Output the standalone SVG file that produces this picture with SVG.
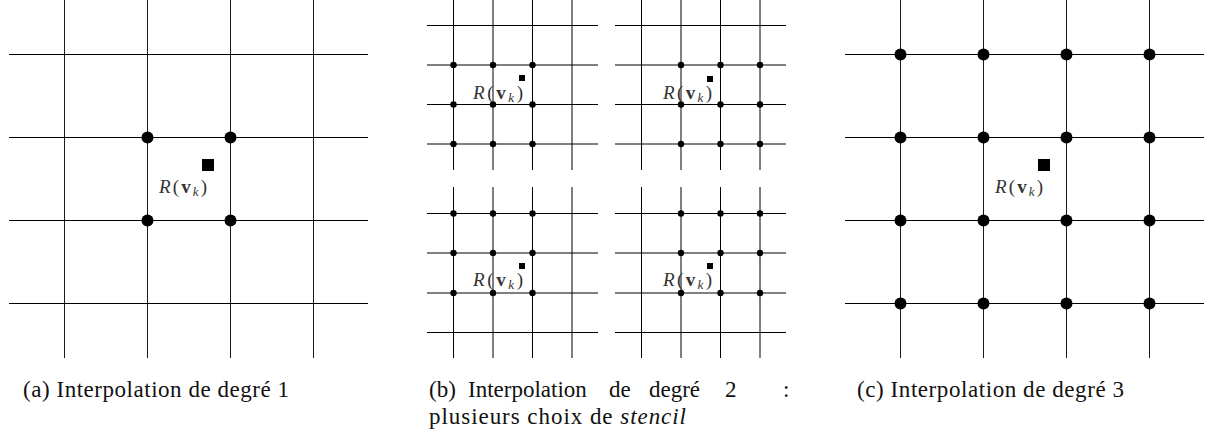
<svg xmlns="http://www.w3.org/2000/svg" width="1208" height="441" viewBox="0 0 1208 441">
<style>
.ln{stroke:#000;stroke-width:1;fill:none}
.lv{stroke:#1a1a1a;stroke-width:1;fill:none}
.dot{fill:#000}
.sq{fill:#000}
.lab{font-family:"Liberation Serif",serif;font-size:19px;fill:#333}
.cap{font-family:"Liberation Serif",serif;font-size:23px;fill:#111}
.it{font-style:italic}
.bf{font-weight:bold}
</style>
<rect width="1208" height="441" fill="#fff"/>

<g id="panel-a">
  <g id="a-grid">
    <path class="lv" d="M64.5 0V358M147.5 0V358M230.5 0V358M313.5 0V358"/>
    <path class="ln" d="M9 54.5H368M9 137.5H368M9 220.5H368M9 303.5H368"/>
  </g>
  <g id="a-nodes">
    <circle class="dot" cx="147.5" cy="137.5" r="6"/>
    <circle class="dot" cx="230.5" cy="137.5" r="6"/>
    <circle class="dot" cx="147.5" cy="220.5" r="6"/>
    <circle class="dot" cx="230.5" cy="220.5" r="6"/>
  </g>
  <g id="a-point">
    <rect class="sq" x="202" y="159" width="12" height="12"/>
    <text class="lab" x="159" y="193" textLength="48"><tspan class="it">R</tspan>(<tspan class="bf">v</tspan><tspan class="it" font-size="13" dy="3">k</tspan><tspan dy="-3">)</tspan></text>
  </g>
</g>

<g id="panel-b">
  <g id="b-tl">
    <path class="ln" d="M453.5 0V170M532.5 0V170M427 25.5H598M427 104.5H598"/>
    <path class="ln" d="M493 0V170M572 0V170M427 65H598M427 144H598"/>
    <g class="dot">
      <circle cx="453.5" cy="65" r="3.2"/><circle cx="493" cy="65" r="3.2"/><circle cx="532.5" cy="65" r="3.2"/>
      <circle cx="453.5" cy="104.5" r="3.2"/><circle cx="493" cy="104.5" r="3.2"/><circle cx="532.5" cy="104.5" r="3.2"/>
      <circle cx="453.5" cy="144" r="3.2"/><circle cx="493" cy="144" r="3.2"/><circle cx="532.5" cy="144" r="3.2"/>
    </g>
    <rect class="sq" x="519" y="75" width="6" height="6"/>
    <text class="lab" x="473" y="99" textLength="50"><tspan class="it">R</tspan>(<tspan class="bf">v</tspan><tspan class="it" font-size="13" dy="3">k</tspan><tspan dy="-3">)</tspan></text>
  </g>
  <g id="b-tr">
    <path class="ln" d="M641.5 0V170M720.5 0V170M615 25.5H786M615 104.5H786"/>
    <path class="ln" d="M681 0V170M760 0V170M615 65H786M615 144H786"/>
    <g class="dot">
      <circle cx="681" cy="65" r="3.2"/><circle cx="720.5" cy="65" r="3.2"/><circle cx="760" cy="65" r="3.2"/>
      <circle cx="681" cy="104.5" r="3.2"/><circle cx="720.5" cy="104.5" r="3.2"/><circle cx="760" cy="104.5" r="3.2"/>
      <circle cx="681" cy="144" r="3.2"/><circle cx="720.5" cy="144" r="3.2"/><circle cx="760" cy="144" r="3.2"/>
    </g>
    <rect class="sq" x="707" y="76" width="6" height="6"/>
    <text class="lab" x="663" y="99" textLength="49"><tspan class="it">R</tspan>(<tspan class="bf">v</tspan><tspan class="it" font-size="13" dy="3">k</tspan><tspan dy="-3">)</tspan></text>
  </g>
  <g id="b-bl">
    <path class="ln" d="M453.5 187V358M532.5 187V358M427 213.5H598M427 332.5H598"/>
    <path class="ln" d="M493 187V358M572 187V358M427 253H598M427 293H598"/>
    <g class="dot">
      <circle cx="453.5" cy="213.5" r="3.2"/><circle cx="493" cy="213.5" r="3.2"/><circle cx="532.5" cy="213.5" r="3.2"/>
      <circle cx="453.5" cy="253" r="3.2"/><circle cx="493" cy="253" r="3.2"/><circle cx="532.5" cy="253" r="3.2"/>
      <circle cx="453.5" cy="293" r="3.2"/><circle cx="493" cy="293" r="3.2"/><circle cx="532.5" cy="293" r="3.2"/>
    </g>
    <rect class="sq" x="519" y="263" width="6" height="6"/>
    <text class="lab" x="473" y="286" textLength="50"><tspan class="it">R</tspan>(<tspan class="bf">v</tspan><tspan class="it" font-size="13" dy="3">k</tspan><tspan dy="-3">)</tspan></text>
  </g>
  <g id="b-br">
    <path class="ln" d="M641.5 187V358M720.5 187V358M615 213.5H786M615 332.5H786"/>
    <path class="ln" d="M681 187V358M760 187V358M615 253H786M615 293H786"/>
    <g class="dot">
      <circle cx="681" cy="213.5" r="3.2"/><circle cx="720.5" cy="213.5" r="3.2"/><circle cx="760" cy="213.5" r="3.2"/>
      <circle cx="681" cy="253" r="3.2"/><circle cx="720.5" cy="253" r="3.2"/><circle cx="760" cy="253" r="3.2"/>
      <circle cx="681" cy="293" r="3.2"/><circle cx="720.5" cy="293" r="3.2"/><circle cx="760" cy="293" r="3.2"/>
    </g>
    <rect class="sq" x="707" y="263" width="6" height="6"/>
    <text class="lab" x="663" y="286" textLength="49"><tspan class="it">R</tspan>(<tspan class="bf">v</tspan><tspan class="it" font-size="13" dy="3">k</tspan><tspan dy="-3">)</tspan></text>
  </g>
</g>

<g id="panel-c">
  <g id="c-grid">
    <path class="lv" d="M900.5 0V358M983.5 0V358M1066.5 0V358M1149.5 0V358"/>
    <path class="ln" d="M845 54.5H1204M845 137.5H1204M845 220.5H1204M845 303.5H1204"/>
  </g>
  <g id="c-nodes" class="dot">
    <circle cx="900.5" cy="54.5" r="6"/><circle cx="983.5" cy="54.5" r="6"/><circle cx="1066.5" cy="54.5" r="6"/><circle cx="1149.5" cy="54.5" r="6"/>
    <circle cx="900.5" cy="137.5" r="6"/><circle cx="983.5" cy="137.5" r="6"/><circle cx="1066.5" cy="137.5" r="6"/><circle cx="1149.5" cy="137.5" r="6"/>
    <circle cx="900.5" cy="220.5" r="6"/><circle cx="983.5" cy="220.5" r="6"/><circle cx="1066.5" cy="220.5" r="6"/><circle cx="1149.5" cy="220.5" r="6"/>
    <circle cx="900.5" cy="303.5" r="6"/><circle cx="983.5" cy="303.5" r="6"/><circle cx="1066.5" cy="303.5" r="6"/><circle cx="1149.5" cy="303.5" r="6"/>
  </g>
  <g id="c-point">
    <rect class="sq" x="1038" y="159" width="12" height="12"/>
    <text class="lab" x="995" y="193" textLength="48"><tspan class="it">R</tspan>(<tspan class="bf">v</tspan><tspan class="it" font-size="13" dy="3">k</tspan><tspan dy="-3">)</tspan></text>
  </g>
</g>

<g id="captions">
  <text class="cap" x="23" y="397" textLength="266">(a) Interpolation de degré 1</text>
  <text class="cap" y="397"><tspan x="429">(b)</tspan><tspan x="468">Interpolation</tspan><tspan x="609">de</tspan><tspan x="649">degré</tspan><tspan x="725">2</tspan><tspan x="783">:</tspan></text>
  <text class="cap" x="429" y="424" textLength="257">plusieurs choix de <tspan class="it">stencil</tspan></text>
  <text class="cap" x="857" y="397" textLength="267">(c) Interpolation de degré 3</text>
</g>
</svg>
